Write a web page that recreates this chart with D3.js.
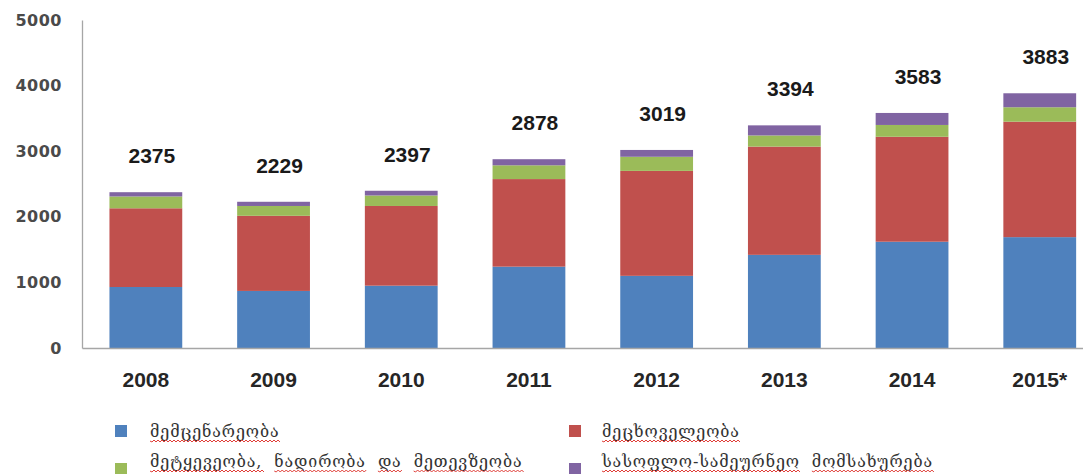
<!DOCTYPE html>
<html>
<head>
<meta charset="utf-8">
<script src="https://cdn.jsdelivr.net/npm/d3@7"></script>
<style>
  body { margin: 0; background: #fff; }
  svg { display: block; }
</style>
</head>
<body>
<div id="chart"></div>
<script>
// chart data
const years = ["2008", "2009", "2010", "2011", "2012", "2013", "2014", "2015*"];
const plantGrowing = [930, 870, 950, 1240, 1100, 1420, 1620, 1690];
const livestock = [1200, 1145, 1215, 1335, 1600, 1650, 1600, 1760];
const forestryFishing = [180, 150, 160, 210, 215, 170, 180, 220];
const agriServices = [65, 64, 72, 93, 104, 154, 183, 213];
const totals = [2375, 2229, 2397, 2878, 3019, 3394, 3583, 3883];
const yTicks = [0, 1000, 2000, 3000, 4000, 5000];
const seriesNames = [
  "მემცენარეობა",
  "მეცხოველეობა",
  "მეტყევეობა,  ნადირობა  და  მეთევზეობა",
  "სასოფლო-სამეურნეო  მომსახურება"
];
const colors = ["#4f81bd", "#c0504d", "#9bbb59", "#8064a2"];

function drawChart() {
  const width = 1083, height = 474;

  const svg = d3.select("#chart")
    .append("svg")
    .attr("width", width)
    .attr("height", height);

  // build a table for the stack layout
  const keys = ["plant", "livestock", "forestry", "services"];
  const table = years.map((year, i) => ({
    year: year,
    plant: plantGrowing[i],
    livestock: livestock[i],
    forestry: forestryFishing[i],
    services: agriServices[i]
  }));
  const stacked = d3.stack().keys(keys)(table);

  const step = 127.7;
  const x = d3.scaleBand()
    .domain(years)
    .range([82, 82 + step * years.length])
    .paddingInner(0.43)
    .paddingOuter(0.215);

  const y = d3.scaleLinear()
    .domain([0, 5000])
    .range([348, 20]);

  // bars
  svg.append("g")
    .selectAll("g")
    .data(stacked)
    .join("g")
    .attr("fill", (d, i) => colors[i])
    .selectAll("rect")
    .data(d => d)
    .join("rect")
    .attr("x", d => x(d.data.year))
    .attr("y", d => y(d[1]))
    .attr("width", x.bandwidth())
    .attr("height", d => y(d[0]) - y(d[1]));

  // y axis
  const yAxis = svg.append("g")
    .attr("transform", "translate(82,0)")
    .call(d3.axisLeft(y).tickValues(yTicks).tickFormat(d3.format("d")).tickSize(0).tickSizeOuter(0).tickPadding(20));
  yAxis.select(".domain").attr("stroke", "#a6a6a6").attr("stroke-width", 1.3);
  yAxis.selectAll("text")
    .attr("font-family", "DejaVu Sans, sans-serif")
    .attr("font-weight", "bold")
    .attr("font-size", 16)
    .attr("letter-spacing", 0.5)
    .attr("fill", "#4a4a4a");

  // x axis
  const xAxis = svg.append("g")
    .attr("transform", "translate(0,348)")
    .call(d3.axisBottom(x).tickSize(0).tickSizeOuter(0).tickPadding(24));
  xAxis.select(".domain").attr("stroke", "#a6a6a6").attr("stroke-width", 1.3);
  xAxis.selectAll("text")
    .attr("font-family", "Liberation Sans, Arial, sans-serif")
    .attr("font-weight", "bold")
    .attr("font-size", 21)
    .attr("fill", "#262626");

  // total labels above bars
  svg.append("g")
    .selectAll("text")
    .data(totals)
    .join("text")
    .attr("x", (d, i) => x(years[i]) + x.bandwidth() / 2 + 6)
    .attr("y", d => y(d) - 29)
    .attr("text-anchor", "middle")
    .attr("font-family", "Liberation Sans, Arial, sans-serif")
    .attr("font-weight", "bold")
    .attr("font-size", 21)
    .attr("fill", "#1a1a1a")
    .text(d => d);

  // legend
  const legendPos = [
    { sx: 115, sy: 425, tx: 150, ty: 437 },
    { sx: 569, sy: 425, tx: 602, ty: 437 },
    { sx: 115, sy: 463, tx: 150, ty: 467 },
    { sx: 569, sy: 463, tx: 602, ty: 467 }
  ];
  const legend = svg.append("g")
    .selectAll("g")
    .data(seriesNames)
    .join("g");

  legend.append("rect")
    .attr("x", (d, i) => legendPos[i].sx)
    .attr("y", (d, i) => legendPos[i].sy)
    .attr("width", 12)
    .attr("height", 12)
    .attr("fill", (d, i) => colors[i]);

  legend.append("text")
    .attr("x", (d, i) => legendPos[i].tx)
    .attr("y", (d, i) => legendPos[i].ty)
    .attr("font-family", "DejaVu Serif, DejaVu Sans, serif")
    .attr("font-size", 16)
    .attr("letter-spacing", 0.9)
    .attr("fill", "#333")
    .style("white-space", "pre")
    .text(d => d)
    .each(function (d, i) {
      // red wavy spell-check underline under each word
      const node = this;
      const pos = legendPos[i];
      let idx = 0;
      d.split(/(\s+)/).forEach(part => {
        if (part.trim().length) {
          const x0 = pos.tx + (idx ? node.getSubStringLength(0, idx) : 0);
          const w = node.getSubStringLength(idx, part.length);
          let path = `M${x0},${pos.ty + 4}`;
          for (let k = 0; x0 + k * 2 < x0 + w; k++) {
            path += `L${x0 + (k + 1) * 2},${pos.ty + 4 + (k % 2 ? -1 : 1)}`;
          }
          svg.append("path")
            .attr("d", path)
            .attr("fill", "none")
            .attr("stroke", "#e0403a")
            .attr("stroke-width", 1);
        }
        idx += part.length;
      });
    });
}

drawChart();
</script>
</body>
</html>
